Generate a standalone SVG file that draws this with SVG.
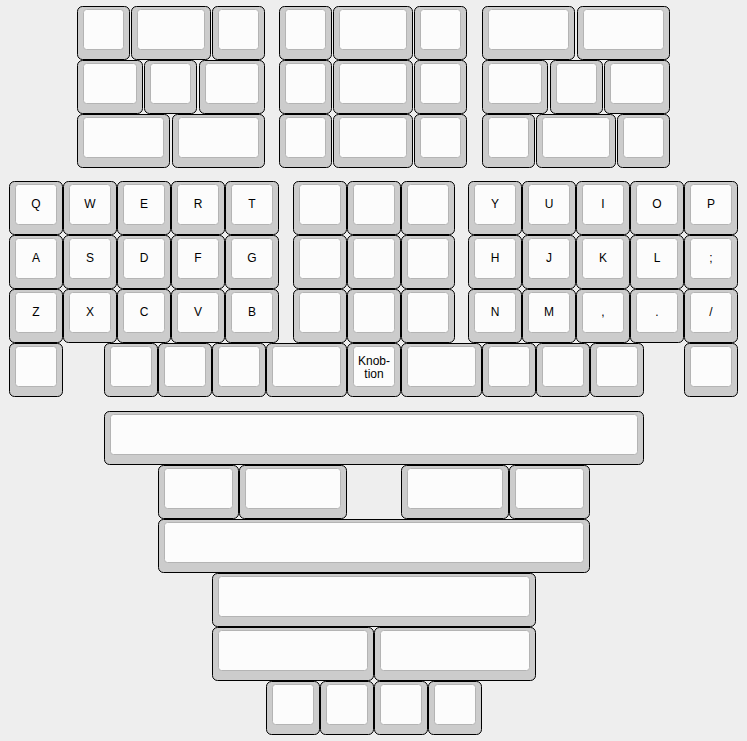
<svg xmlns="http://www.w3.org/2000/svg" xmlns:xlink="http://www.w3.org/1999/xlink" width="747" height="741" viewBox="0 0 747 741">
<style>
.o{fill:#cccccc;stroke:#000000;stroke-width:1}
.i{fill:#fcfcfc;stroke:#b4b4b4;stroke-width:1}
text{font-family:"Liberation Sans",Arial,sans-serif;font-size:12px;fill:#000000;text-anchor:middle}
</style>
<defs>
<g id="u1"><rect class="o" x="0.5" y="0.5" width="53" height="53" rx="5"/><rect class="i" x="6.5" y="3.5" width="41" height="40" rx="3"/></g>
<g id="u15"><rect class="o" x="0.5" y="0.5" width="80" height="53" rx="5"/><rect class="i" x="6.5" y="3.5" width="68" height="40" rx="3"/></g>
<g id="u2"><rect class="o" x="0.5" y="0.5" width="107" height="53" rx="5"/><rect class="i" x="6.5" y="3.5" width="95" height="40" rx="3"/></g>
<g id="u3"><rect class="o" x="0.5" y="0.5" width="161" height="53" rx="5"/><rect class="i" x="6.5" y="3.5" width="149" height="40" rx="3"/></g>
<g id="u6"><rect class="o" x="0.5" y="0.5" width="323" height="53" rx="5"/><rect class="i" x="6.5" y="3.5" width="311" height="40" rx="3"/></g>
<g id="u8"><rect class="o" x="0.5" y="0.5" width="431" height="53" rx="5"/><rect class="i" x="6.5" y="3.5" width="419" height="40" rx="3"/></g>
<g id="u10"><rect class="o" x="0.5" y="0.5" width="539" height="53" rx="5"/><rect class="i" x="6.5" y="3.5" width="527" height="40" rx="3"/></g>
<g id="t1"><rect class="o" x="0.5" y="0.5" width="52" height="53" rx="5"/><rect class="i" x="6.5" y="3.5" width="40" height="40" rx="3"/></g>
<g id="t125"><rect class="o" x="0.5" y="0.5" width="65" height="53" rx="5"/><rect class="i" x="6.5" y="3.5" width="53" height="40" rx="3"/></g>
<g id="t15"><rect class="o" x="0.5" y="0.5" width="79" height="53" rx="5"/><rect class="i" x="6.5" y="3.5" width="67" height="40" rx="3"/></g>
<g id="t175"><rect class="o" x="0.5" y="0.5" width="92" height="53" rx="5"/><rect class="i" x="6.5" y="3.5" width="80" height="40" rx="3"/></g>
</defs>
<rect x="0" y="0" width="747" height="741" fill="#eeeeee"/>
<g id="top-block-1">
<g id="tb1-r1-k1" transform="translate(77,6)"><use href="#t1"/></g>
<g id="tb1-r1-k2" transform="translate(131,6)"><use href="#t15"/></g>
<g id="tb1-r1-k3" transform="translate(212,6)"><use href="#t1"/></g>
<g id="tb1-r2-k1" transform="translate(77,60)"><use href="#t125"/></g>
<g id="tb1-r2-k2" transform="translate(144,60)"><use href="#t1"/></g>
<g id="tb1-r2-k3" transform="translate(199,60)"><use href="#t125"/></g>
<g id="tb1-r3-k1" transform="translate(77,114)"><use href="#t175"/></g>
<g id="tb1-r3-k2" transform="translate(172,114)"><use href="#t175"/></g>
</g>
<g id="top-block-2">
<g id="tb2-r1-k1" transform="translate(279,6)"><use href="#t1"/></g>
<g id="tb2-r1-k2" transform="translate(333,6)"><use href="#t15"/></g>
<g id="tb2-r1-k3" transform="translate(414,6)"><use href="#t1"/></g>
<g id="tb2-r2-k1" transform="translate(279,60)"><use href="#t1"/></g>
<g id="tb2-r2-k2" transform="translate(333,60)"><use href="#t15"/></g>
<g id="tb2-r2-k3" transform="translate(414,60)"><use href="#t1"/></g>
<g id="tb2-r3-k1" transform="translate(279,114)"><use href="#t1"/></g>
<g id="tb2-r3-k2" transform="translate(333,114)"><use href="#t15"/></g>
<g id="tb2-r3-k3" transform="translate(414,114)"><use href="#t1"/></g>
</g>
<g id="top-block-3">
<g id="tb3-r1-k1" transform="translate(482,6)"><use href="#t175"/></g>
<g id="tb3-r1-k2" transform="translate(577,6)"><use href="#t175"/></g>
<g id="tb3-r2-k1" transform="translate(482,60)"><use href="#t125"/></g>
<g id="tb3-r2-k2" transform="translate(550,60)"><use href="#t1"/></g>
<g id="tb3-r2-k3" transform="translate(604,60)"><use href="#t125"/></g>
<g id="tb3-r3-k1" transform="translate(482,114)"><use href="#t1"/></g>
<g id="tb3-r3-k2" transform="translate(536,114)"><use href="#t15"/></g>
<g id="tb3-r3-k3" transform="translate(617,114)"><use href="#t1"/></g>
</g>
<g id="row-q">
<g id="key-q" transform="translate(9,181)"><use href="#u1"/><text x="27" y="27">Q</text></g>
<g id="key-w" transform="translate(63,181)"><use href="#u1"/><text x="27" y="27">W</text></g>
<g id="key-e" transform="translate(117,181)"><use href="#u1"/><text x="27" y="27">E</text></g>
<g id="key-r" transform="translate(171,181)"><use href="#u1"/><text x="27" y="27">R</text></g>
<g id="key-t" transform="translate(225,181)"><use href="#u1"/><text x="27" y="27">T</text></g>
<g id="key-m1" transform="translate(293,181)"><use href="#u1"/></g>
<g id="key-m2" transform="translate(347,181)"><use href="#u1"/></g>
<g id="key-m3" transform="translate(401,181)"><use href="#u1"/></g>
<g id="key-y" transform="translate(468,181)"><use href="#u1"/><text x="27" y="27">Y</text></g>
<g id="key-u" transform="translate(522,181)"><use href="#u1"/><text x="27" y="27">U</text></g>
<g id="key-i" transform="translate(576,181)"><use href="#u1"/><text x="27" y="27">I</text></g>
<g id="key-o" transform="translate(630,181)"><use href="#u1"/><text x="27" y="27">O</text></g>
<g id="key-p" transform="translate(684,181)"><use href="#u1"/><text x="27" y="27">P</text></g>
</g>
<g id="row-a">
<g id="key-a" transform="translate(9,235)"><use href="#u1"/><text x="27" y="27">A</text></g>
<g id="key-s" transform="translate(63,235)"><use href="#u1"/><text x="27" y="27">S</text></g>
<g id="key-d" transform="translate(117,235)"><use href="#u1"/><text x="27" y="27">D</text></g>
<g id="key-f" transform="translate(171,235)"><use href="#u1"/><text x="27" y="27">F</text></g>
<g id="key-g" transform="translate(225,235)"><use href="#u1"/><text x="27" y="27">G</text></g>
<g id="key-m4" transform="translate(293,235)"><use href="#u1"/></g>
<g id="key-m5" transform="translate(347,235)"><use href="#u1"/></g>
<g id="key-m6" transform="translate(401,235)"><use href="#u1"/></g>
<g id="key-h" transform="translate(468,235)"><use href="#u1"/><text x="27" y="27">H</text></g>
<g id="key-j" transform="translate(522,235)"><use href="#u1"/><text x="27" y="27">J</text></g>
<g id="key-k" transform="translate(576,235)"><use href="#u1"/><text x="27" y="27">K</text></g>
<g id="key-l" transform="translate(630,235)"><use href="#u1"/><text x="27" y="27">L</text></g>
<g id="key-semicolon" transform="translate(684,235)"><use href="#u1"/><text x="27" y="27">;</text></g>
</g>
<g id="row-z">
<g id="key-z" transform="translate(9,289)"><use href="#u1"/><text x="27" y="27">Z</text></g>
<g id="key-x" transform="translate(63,289)"><use href="#u1"/><text x="27" y="27">X</text></g>
<g id="key-c" transform="translate(117,289)"><use href="#u1"/><text x="27" y="27">C</text></g>
<g id="key-v" transform="translate(171,289)"><use href="#u1"/><text x="27" y="27">V</text></g>
<g id="key-b" transform="translate(225,289)"><use href="#u1"/><text x="27" y="27">B</text></g>
<g id="key-m7" transform="translate(293,289)"><use href="#u1"/></g>
<g id="key-m8" transform="translate(347,289)"><use href="#u1"/></g>
<g id="key-m9" transform="translate(401,289)"><use href="#u1"/></g>
<g id="key-n" transform="translate(468,289)"><use href="#u1"/><text x="27" y="27">N</text></g>
<g id="key-m" transform="translate(522,289)"><use href="#u1"/><text x="27" y="27">M</text></g>
<g id="key-comma" transform="translate(576,289)"><use href="#u1"/><text x="27" y="27">,</text></g>
<g id="key-period" transform="translate(630,289)"><use href="#u1"/><text x="27" y="27">.</text></g>
<g id="key-slash" transform="translate(684,289)"><use href="#u1"/><text x="27" y="27">/</text></g>
</g>
<g id="row-4">
<g id="r4-k1" transform="translate(9,343)"><use href="#u1"/></g>
<g id="r4-k2" transform="translate(104,343)"><use href="#u1"/></g>
<g id="r4-k3" transform="translate(158,343)"><use href="#u1"/></g>
<g id="r4-k4" transform="translate(212,343)"><use href="#u1"/></g>
<g id="r4-k5" transform="translate(266,343)"><use href="#u15"/></g>
<g id="key-knobtion" transform="translate(347,343)"><use href="#u1"/><text x="27" y="22">Knob-</text><text x="27" y="35">tion</text></g>
<g id="r4-k7" transform="translate(401,343)"><use href="#u15"/></g>
<g id="r4-k8" transform="translate(482,343)"><use href="#u1"/></g>
<g id="r4-k9" transform="translate(536,343)"><use href="#u1"/></g>
<g id="r4-k10" transform="translate(590,343)"><use href="#u1"/></g>
<g id="r4-k11" transform="translate(684,343)"><use href="#u1"/></g>
</g>
<g id="bottom-rows">
<g id="r5-k1" transform="translate(104,411)"><use href="#u10"/></g>
<g id="r6-k1" transform="translate(158,465)"><use href="#u15"/></g>
<g id="r6-k2" transform="translate(239,465)"><use href="#u2"/></g>
<g id="r6-k3" transform="translate(401,465)"><use href="#u2"/></g>
<g id="r6-k4" transform="translate(509,465)"><use href="#u15"/></g>
<g id="r7-k1" transform="translate(158,519)"><use href="#u8"/></g>
<g id="r8-k1" transform="translate(212,573)"><use href="#u6"/></g>
<g id="r9-k1" transform="translate(212,627)"><use href="#u3"/></g>
<g id="r9-k2" transform="translate(374,627)"><use href="#u3"/></g>
<g id="r10-k1" transform="translate(266,681)"><use href="#u1"/></g>
<g id="r10-k2" transform="translate(320,681)"><use href="#u1"/></g>
<g id="r10-k3" transform="translate(374,681)"><use href="#u1"/></g>
<g id="r10-k4" transform="translate(428,681)"><use href="#u1"/></g>
</g>
<g id="connectors"/>
</svg>
